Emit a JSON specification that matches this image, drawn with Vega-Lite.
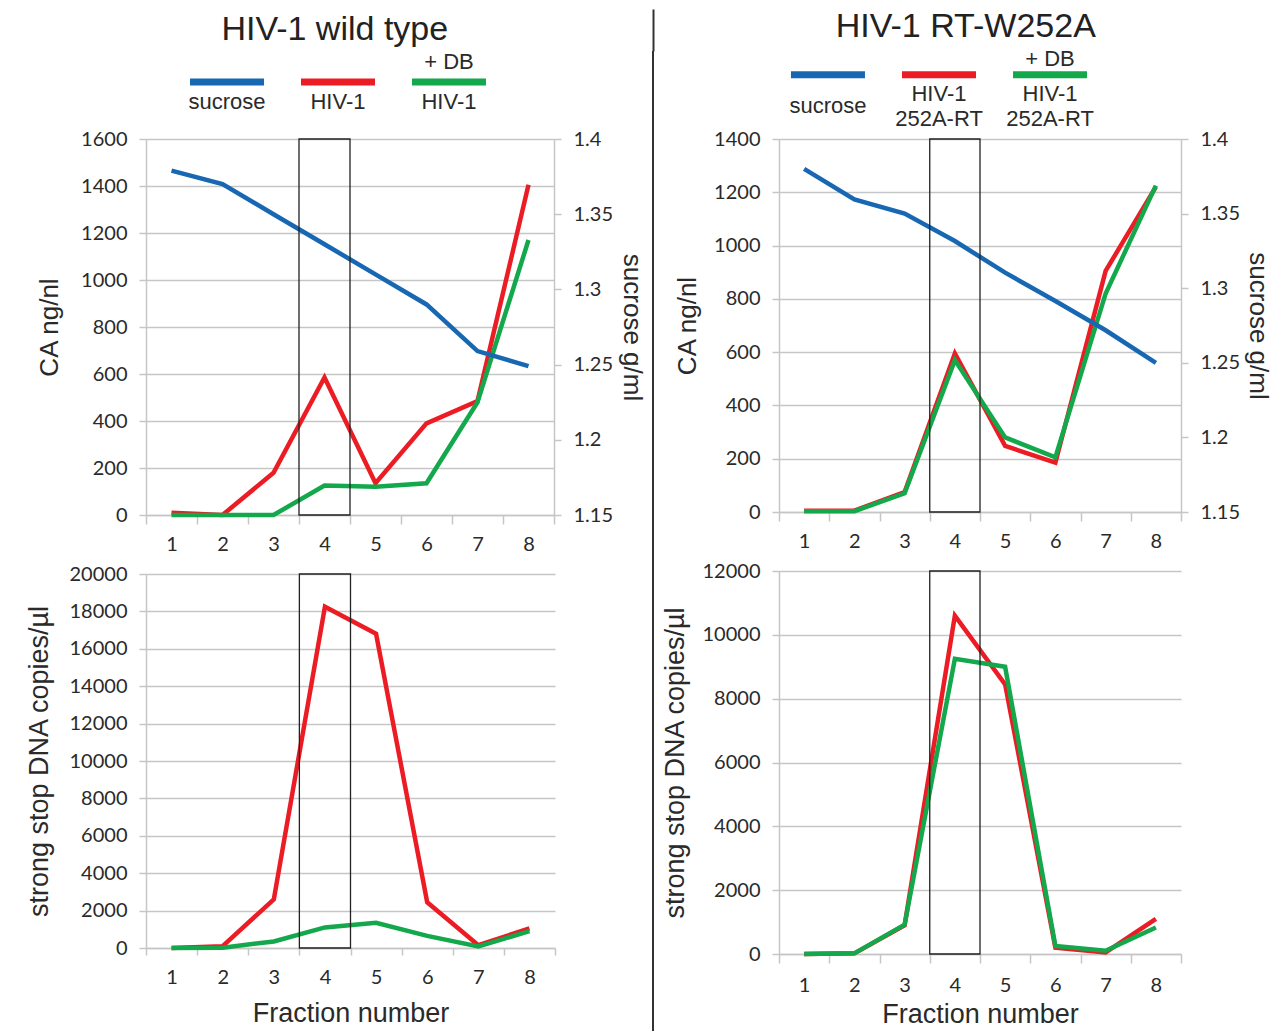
{
  "$schema": "https://vega.github.io/schema/vega-lite/v6.json",
  "padding": {"left": 25, "top": 8, "right": 0, "bottom": 0},
  "config": {
    "view": {"stroke": null},
    "axis": {"labelFont": "Lato", "labelFontSize": 20, "labelColor": "#2a2a2a", "titleFont": "Liberation Sans", "titleFontSize": 26, "titleFontWeight": "normal", "titleColor": "#2a2a2a", "gridColor": "#c6c6c6", "gridWidth": 1.5, "domainColor": "#c6c6c6", "domainWidth": 1.5, "tickColor": "#c6c6c6", "tickWidth": 1.5, "tickSize": 7, "labelPadding": 12},
    "title": {"font": "Liberation Sans", "fontSize": 34, "fontWeight": "normal", "color": "#222222"},
    "text": {"font": "Liberation Sans", "fontSize": 22, "color": "#2a2a2a"}
  },
  "datasets": {
    "legL": [
      {"condition": "sucrose", "part": "swatch"}, {"condition": "no DB", "part": "swatch"}, {"condition": "+ DB", "part": "swatch"},
      {"condition": "sucrose", "part": "label", "text": "sucrose"}, {"condition": "no DB", "part": "label", "text": "HIV-1"}, {"condition": "+ DB", "part": "label", "text": "HIV-1"}, {"condition": "+ DB", "part": "above", "text": "+ DB"}
    ],
    "legR": [
      {"condition": "sucrose", "part": "swatch"}, {"condition": "no DB", "part": "swatch"}, {"condition": "+ DB", "part": "swatch"},
      {"condition": "sucrose", "part": "label", "text": "sucrose", "lines": 1}, {"condition": "no DB", "part": "label", "text": "HIV-1\n252A-RT", "lines": 2}, {"condition": "+ DB", "part": "label", "text": "HIV-1\n252A-RT", "lines": 2}, {"condition": "+ DB", "part": "above", "text": "+ DB", "lines": 1}
    ],
    "box": [{"fraction": 3.5, "end": 4.5}],
    "wtCA": [
      {"fraction": 1, "condition": "no DB", "value": 10}, {"fraction": 2, "condition": "no DB", "value": 0}, {"fraction": 3, "condition": "no DB", "value": 180}, {"fraction": 4, "condition": "no DB", "value": 585}, {"fraction": 5, "condition": "no DB", "value": 135}, {"fraction": 6, "condition": "no DB", "value": 390}, {"fraction": 7, "condition": "no DB", "value": 485}, {"fraction": 8, "condition": "no DB", "value": 1405},
      {"fraction": 1, "condition": "+ DB", "value": 0}, {"fraction": 2, "condition": "+ DB", "value": 0}, {"fraction": 3, "condition": "+ DB", "value": 0}, {"fraction": 4, "condition": "+ DB", "value": 125}, {"fraction": 5, "condition": "+ DB", "value": 120}, {"fraction": 6, "condition": "+ DB", "value": 135}, {"fraction": 7, "condition": "+ DB", "value": 480}, {"fraction": 8, "condition": "+ DB", "value": 1170}
    ],
    "wtSuc": [
      {"fraction": 1, "condition": "sucrose", "density": 1.379}, {"fraction": 2, "condition": "sucrose", "density": 1.37}, {"fraction": 3, "condition": "sucrose", "density": 1.35}, {"fraction": 4, "condition": "sucrose", "density": 1.33}, {"fraction": 5, "condition": "sucrose", "density": 1.31}, {"fraction": 6, "condition": "sucrose", "density": 1.29}, {"fraction": 7, "condition": "sucrose", "density": 1.259}, {"fraction": 8, "condition": "sucrose", "density": 1.249}
    ],
    "wtSS": [
      {"fraction": 1, "condition": "no DB", "value": 0}, {"fraction": 2, "condition": "no DB", "value": 100}, {"fraction": 3, "condition": "no DB", "value": 2600}, {"fraction": 4, "condition": "no DB", "value": 18250}, {"fraction": 5, "condition": "no DB", "value": 16800}, {"fraction": 6, "condition": "no DB", "value": 2450}, {"fraction": 7, "condition": "no DB", "value": 150}, {"fraction": 8, "condition": "no DB", "value": 1050},
      {"fraction": 1, "condition": "+ DB", "value": 0}, {"fraction": 2, "condition": "+ DB", "value": 20}, {"fraction": 3, "condition": "+ DB", "value": 350}, {"fraction": 4, "condition": "+ DB", "value": 1100}, {"fraction": 5, "condition": "+ DB", "value": 1350}, {"fraction": 6, "condition": "+ DB", "value": 650}, {"fraction": 7, "condition": "+ DB", "value": 80}, {"fraction": 8, "condition": "+ DB", "value": 900}
    ],
    "rtCA": [
      {"fraction": 1, "condition": "no DB", "value": 5}, {"fraction": 2, "condition": "no DB", "value": 5}, {"fraction": 3, "condition": "no DB", "value": 75}, {"fraction": 4, "condition": "no DB", "value": 595}, {"fraction": 5, "condition": "no DB", "value": 248}, {"fraction": 6, "condition": "no DB", "value": 185}, {"fraction": 7, "condition": "no DB", "value": 905}, {"fraction": 8, "condition": "no DB", "value": 1220},
      {"fraction": 1, "condition": "+ DB", "value": 3}, {"fraction": 2, "condition": "+ DB", "value": 3}, {"fraction": 3, "condition": "+ DB", "value": 70}, {"fraction": 4, "condition": "+ DB", "value": 570}, {"fraction": 5, "condition": "+ DB", "value": 280}, {"fraction": 6, "condition": "+ DB", "value": 205}, {"fraction": 7, "condition": "+ DB", "value": 820}, {"fraction": 8, "condition": "+ DB", "value": 1225}
    ],
    "rtSuc": [
      {"fraction": 1, "condition": "sucrose", "density": 1.38}, {"fraction": 2, "condition": "sucrose", "density": 1.3595}, {"fraction": 3, "condition": "sucrose", "density": 1.35}, {"fraction": 4, "condition": "sucrose", "density": 1.3316}, {"fraction": 5, "condition": "sucrose", "density": 1.3104}, {"fraction": 6, "condition": "sucrose", "density": 1.2914}, {"fraction": 7, "condition": "sucrose", "density": 1.2718}, {"fraction": 8, "condition": "sucrose", "density": 1.25}
    ],
    "rtSS": [
      {"fraction": 1, "condition": "no DB", "value": 0}, {"fraction": 2, "condition": "no DB", "value": 20}, {"fraction": 3, "condition": "no DB", "value": 900}, {"fraction": 4, "condition": "no DB", "value": 10600}, {"fraction": 5, "condition": "no DB", "value": 8450}, {"fraction": 6, "condition": "no DB", "value": 200}, {"fraction": 7, "condition": "no DB", "value": 50}, {"fraction": 8, "condition": "no DB", "value": 1100},
      {"fraction": 1, "condition": "+ DB", "value": 0}, {"fraction": 2, "condition": "+ DB", "value": 20}, {"fraction": 3, "condition": "+ DB", "value": 920}, {"fraction": 4, "condition": "+ DB", "value": 9250}, {"fraction": 5, "condition": "+ DB", "value": 9000}, {"fraction": 6, "condition": "+ DB", "value": 250}, {"fraction": 7, "condition": "+ DB", "value": 100}, {"fraction": 8, "condition": "+ DB", "value": 830}
    ]
  },
  "spacing": 7,
  "hconcat": [
    {
      "title": {"text": "HIV-1 wild type", "anchor": "middle", "offset": 4},
      "bounds": "flush",
      "spacing": 59,
      "vconcat": [
        {
          "width": 384, "height": 29,
          "data": {"name": "legL"},
          "encoding": {
            "x": {"field": "condition", "type": "nominal", "scale": {"type": "point", "domain": ["sucrose", "no DB", "+ DB"], "padding": 0.73}, "axis": null},
            "y": {"field": "part", "type": "nominal", "scale": {"type": "point", "domain": ["above", "swatch", "label"], "range": [11, 51], "padding": 0}, "axis": null}
          },
          "layer": [
            {"transform": [{"filter": "datum.part === 'swatch'"}], "mark": {"type": "tick", "orient": "horizontal", "size": 74, "thickness": 7, "opacity": 1},
             "encoding": {"color": {"field": "condition", "type": "nominal", "scale": {"domain": ["sucrose", "no DB", "+ DB"], "range": ["#1767b3", "#ec1c24", "#12a84b"]}, "legend": null}}},
            {"transform": [{"filter": "datum.part !== 'swatch'"}], "mark": {"type": "text", "baseline": "middle", "align": "center"},
             "encoding": {"text": {"field": "text", "type": "nominal"}}}
          ]
        },
        {
          "width": 408, "height": 376,
          "encoding": {
            "x": {"field": "fraction", "type": "quantitative", "scale": {"domain": [0.5, 8.5], "nice": false, "zero": false},
                  "axis": {"title": null, "grid": false, "values": [0.5, 1, 1.5, 2, 2.5, 3, 3.5, 4, 4.5, 5, 5.5, 6, 6.5, 7, 7.5, 8, 8.5], "labelExpr": "datum.value % 1 === 0 ? '' + datum.value : ''", "tickOpacity": {"condition": {"test": "datum.value % 1 === 0", "value": 0}, "value": 1}, "tickSize": 9, "labelPadding": 10, "labelFlush": false, "labelOverlap": false}}
          },
          "layer": [
            {"data": {"name": "wtCA"}, "mark": {"type": "line", "strokeWidth": 4.5},
             "encoding": {
               "y": {"field": "value", "type": "quantitative", "scale": {"domain": [0, 1600], "nice": false},
                     "axis": {"title": "CA ng/nl", "values": [0, 200, 400, 600, 800, 1000, 1200, 1400, 1600], "format": "d", "titlePadding": 18}},
               "color": {"field": "condition", "type": "nominal", "scale": {"domain": ["sucrose", "no DB", "+ DB"], "range": ["#1767b3", "#ec1c24", "#12a84b"]}, "legend": null}
             }},
            {"data": {"name": "wtSuc"}, "mark": {"type": "line", "strokeWidth": 4.5},
             "encoding": {
               "y": {"field": "density", "type": "quantitative", "scale": {"domain": [1.15, 1.4], "nice": false, "zero": false},
                     "axis": {"orient": "right", "title": "sucrose g/ml", "grid": false, "values": [1.15, 1.2, 1.25, 1.3, 1.35, 1.4], "format": "~g", "titlePadding": 6}},
               "color": {"field": "condition", "type": "nominal", "scale": {"domain": ["sucrose", "no DB", "+ DB"], "range": ["#1767b3", "#ec1c24", "#12a84b"]}, "legend": null}
             }},
            {"data": {"name": "box"}, "mark": {"type": "rect", "fillOpacity": 0, "stroke": "#222222", "strokeWidth": 1.3},
             "encoding": {"x2": {"field": "end"}}}
          ],
          "resolve": {"scale": {"y": "independent"}}
        },
        {
          "width": 409, "height": 374,
          "encoding": {
            "x": {"field": "fraction", "type": "quantitative", "scale": {"domain": [0.5, 8.5], "nice": false, "zero": false},
                  "axis": {"title": "Fraction number", "titleFontSize": 27, "titlePadding": 13, "grid": false, "values": [0.5, 1, 1.5, 2, 2.5, 3, 3.5, 4, 4.5, 5, 5.5, 6, 6.5, 7, 7.5, 8, 8.5], "labelExpr": "datum.value % 1 === 0 ? '' + datum.value : ''", "tickOpacity": {"condition": {"test": "datum.value % 1 === 0", "value": 0}, "value": 1}, "tickSize": 7, "labelPadding": 12, "labelFlush": false, "labelOverlap": false}}
          },
          "layer": [
            {"data": {"name": "wtSS"}, "mark": {"type": "line", "strokeWidth": 4.5},
             "encoding": {
               "y": {"field": "value", "type": "quantitative", "scale": {"domain": [0, 20000], "nice": false},
                     "axis": {"title": "strong stop DNA copies/µl", "titleFontSize": 27, "values": [0, 2000, 4000, 6000, 8000, 10000, 12000, 14000, 16000, 18000, 20000], "format": "d", "titlePadding": 16}},
               "color": {"field": "condition", "type": "nominal", "scale": {"domain": ["sucrose", "no DB", "+ DB"], "range": ["#1767b3", "#ec1c24", "#12a84b"]}, "legend": null}
             }},
            {"data": {"name": "box"}, "mark": {"type": "rect", "fillOpacity": 0, "stroke": "#222222", "strokeWidth": 1.3},
             "encoding": {"x2": {"field": "end"}}}
          ]
        }
      ]
    },
    {
      "width": 2, "height": 981,
      "view": {"fill": "#333333", "stroke": null},
      "data": {"values": [{}]},
      "mark": {"type": "text"},
      "encoding": {
        "text": {"value": ""},
        "x": {"datum": 0, "type": "quantitative", "scale": {"domain": [-1, 1]},
              "axis": {"orient": "top", "values": [0], "labels": false, "domain": false, "grid": false, "title": null, "tickSize": 42, "tickWidth": 2, "tickColor": "#333333"}}
      }
    },
    {
      "title": {"text": "HIV-1 RT-W252A", "anchor": "middle", "offset": 4},
      "bounds": "flush",
      "spacing": 59,
      "vconcat": [
        {
          "width": 320, "height": 29,
          "data": {"name": "legR"},
          "encoding": {
            "x": {"field": "condition", "type": "nominal", "scale": {"type": "point", "domain": ["sucrose", "no DB", "+ DB"], "padding": 0.441}, "axis": null},
            "y": {"field": "part", "type": "nominal", "scale": {"type": "point", "domain": ["above", "swatch", "mid", "label"], "range": [8, 55], "padding": 0}, "axis": null}
          },
          "layer": [
            {"transform": [{"filter": "datum.part === 'swatch'"}], "mark": {"type": "tick", "orient": "horizontal", "size": 74, "thickness": 7, "opacity": 1},
             "encoding": {"color": {"field": "condition", "type": "nominal", "scale": {"domain": ["sucrose", "no DB", "+ DB"], "range": ["#1767b3", "#ec1c24", "#12a84b"]}, "legend": null}}},
            {"transform": [{"filter": "datum.part !== 'swatch' && datum.lines === 1"}], "mark": {"type": "text", "baseline": "middle", "align": "center"},
             "encoding": {"text": {"field": "text", "type": "nominal"}}},
            {"transform": [{"filter": "datum.lines === 2"}], "mark": {"type": "text", "baseline": "middle", "align": "center", "lineBreak": "\n", "lineHeight": 25, "dy": -12.5},
             "encoding": {"text": {"field": "text", "type": "nominal"}}}
          ]
        },
        {
          "width": 402, "height": 373,
          "encoding": {
            "x": {"field": "fraction", "type": "quantitative", "scale": {"domain": [0.5, 8.5], "nice": false, "zero": false},
                  "axis": {"title": null, "grid": false, "values": [0.5, 1, 1.5, 2, 2.5, 3, 3.5, 4, 4.5, 5, 5.5, 6, 6.5, 7, 7.5, 8, 8.5], "labelExpr": "datum.value % 1 === 0 ? '' + datum.value : ''", "tickOpacity": {"condition": {"test": "datum.value % 1 === 0", "value": 0}, "value": 1}, "tickSize": 9, "labelPadding": 10, "labelFlush": false, "labelOverlap": false}}
          },
          "layer": [
            {"data": {"name": "rtCA"}, "mark": {"type": "line", "strokeWidth": 4.5},
             "encoding": {
               "y": {"field": "value", "type": "quantitative", "scale": {"domain": [0, 1400], "nice": false},
                     "axis": {"title": "CA ng/nl", "values": [0, 200, 400, 600, 800, 1000, 1200, 1400], "format": "d", "titlePadding": 13, "labelPadding": 12}},
               "color": {"field": "condition", "type": "nominal", "scale": {"domain": ["sucrose", "no DB", "+ DB"], "range": ["#1767b3", "#ec1c24", "#12a84b"]}, "legend": null}
             }},
            {"data": {"name": "rtSuc"}, "mark": {"type": "line", "strokeWidth": 4.5},
             "encoding": {
               "y": {"field": "density", "type": "quantitative", "scale": {"domain": [1.15, 1.4], "nice": false, "zero": false},
                     "axis": {"orient": "right", "title": "sucrose g/ml", "grid": false, "values": [1.15, 1.2, 1.25, 1.3, 1.35, 1.4], "format": "~g", "titlePadding": 5}},
               "color": {"field": "condition", "type": "nominal", "scale": {"domain": ["sucrose", "no DB", "+ DB"], "range": ["#1767b3", "#ec1c24", "#12a84b"]}, "legend": null}
             }},
            {"data": {"name": "box"}, "mark": {"type": "rect", "fillOpacity": 0, "stroke": "#222222", "strokeWidth": 1.3},
             "encoding": {"x2": {"field": "end"}}}
          ],
          "resolve": {"scale": {"y": "independent"}}
        },
        {
          "width": 402, "height": 383,
          "encoding": {
            "x": {"field": "fraction", "type": "quantitative", "scale": {"domain": [0.5, 8.5], "nice": false, "zero": false},
                  "axis": {"title": "Fraction number", "titleFontSize": 27, "titlePadding": 6, "grid": false, "values": [0.5, 1, 1.5, 2, 2.5, 3, 3.5, 4, 4.5, 5, 5.5, 6, 6.5, 7, 7.5, 8, 8.5], "labelExpr": "datum.value % 1 === 0 ? '' + datum.value : ''", "tickOpacity": {"condition": {"test": "datum.value % 1 === 0", "value": 0}, "value": 1}, "tickSize": 9, "labelPadding": 12, "labelFlush": false, "labelOverlap": false}}
          },
          "layer": [
            {"data": {"name": "rtSS"}, "mark": {"type": "line", "strokeWidth": 4.5},
             "encoding": {
               "y": {"field": "value", "type": "quantitative", "scale": {"domain": [0, 12000], "nice": false},
                     "axis": {"title": "strong stop DNA copies/µl", "titleFontSize": 27, "values": [0, 2000, 4000, 6000, 8000, 10000, 12000], "format": "d", "titlePadding": 13, "labelPadding": 12}},
               "color": {"field": "condition", "type": "nominal", "scale": {"domain": ["sucrose", "no DB", "+ DB"], "range": ["#1767b3", "#ec1c24", "#12a84b"]}, "legend": null}
             }},
            {"data": {"name": "box"}, "mark": {"type": "rect", "fillOpacity": 0, "stroke": "#222222", "strokeWidth": 1.3},
             "encoding": {"x2": {"field": "end"}}}
          ]
        }
      ]
    }
  ]
}
